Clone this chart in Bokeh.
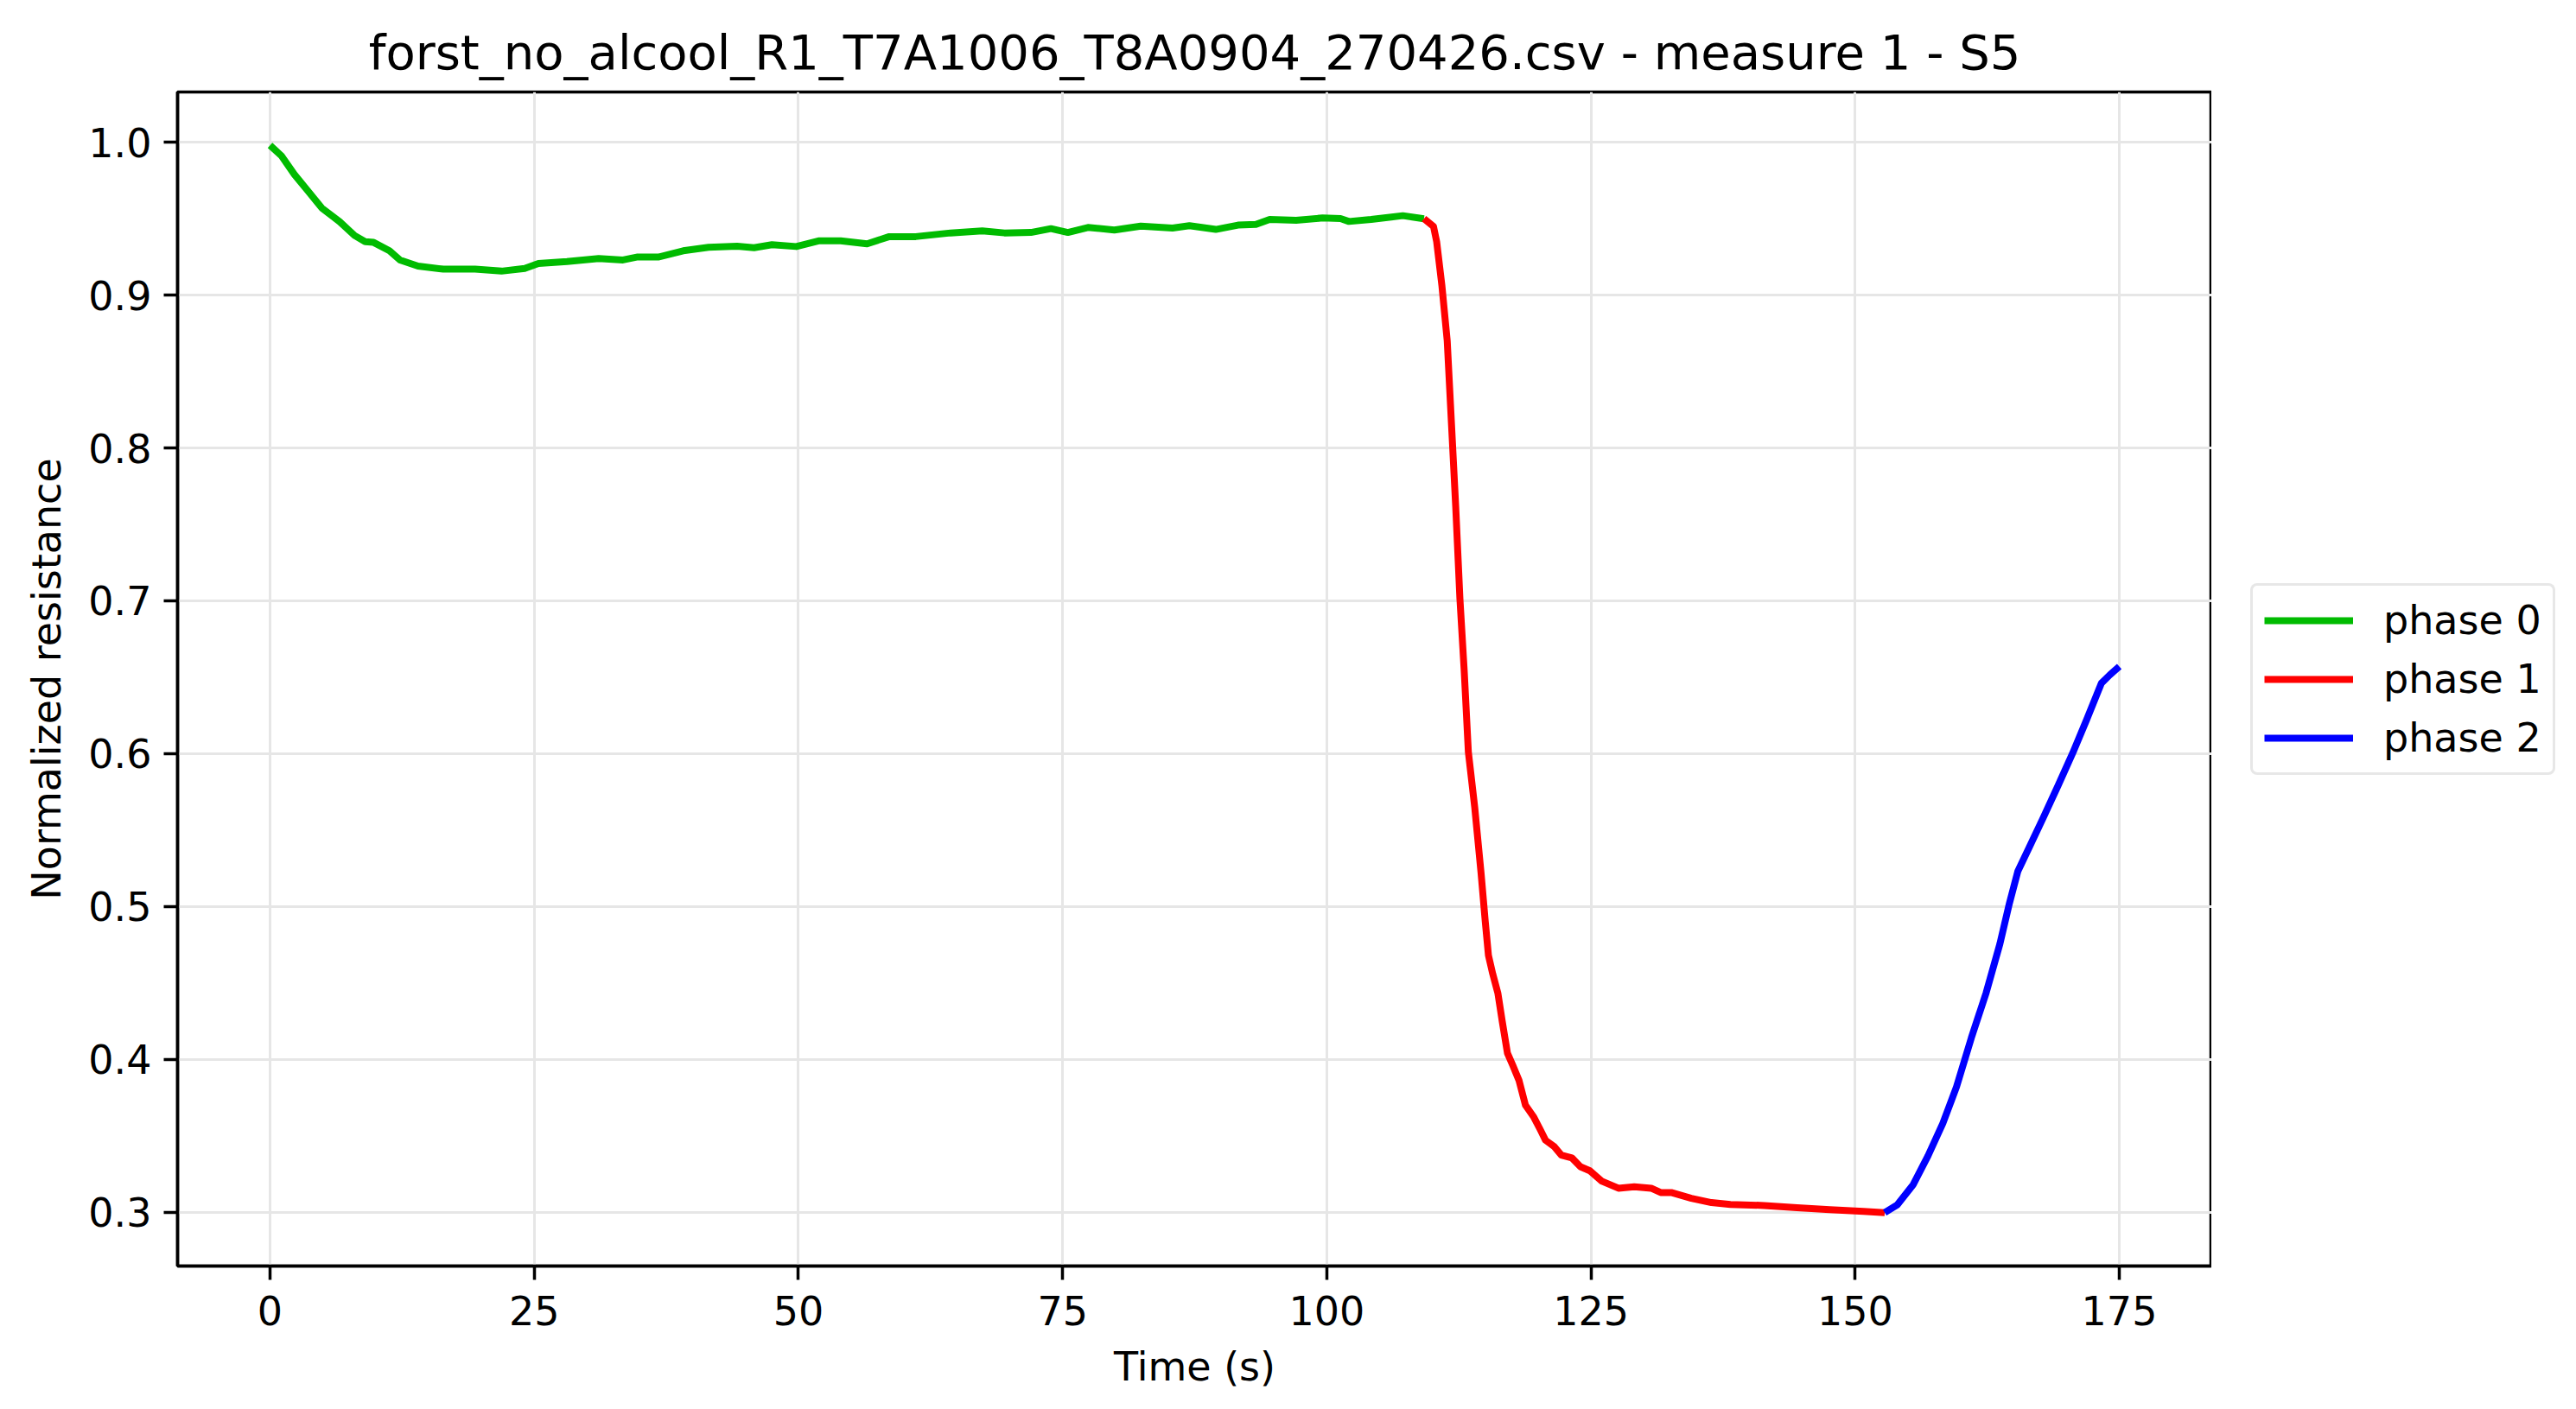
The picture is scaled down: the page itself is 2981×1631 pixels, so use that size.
from bokeh.plotting import figure
from bokeh.layouts import row
from bokeh.models import Range1d, FixedTicker, PrintfTickFormatter, Legend, LegendItem
from bokeh.embed import file_html
from bokeh.resources import INLINE

# ---- data ----
t0 = [0.0, 1.1, 2.3, 3.6, 4.9, 6.6, 8.0, 9.0, 9.8, 11.3, 12.3, 14.0, 16.4, 19.4, 21.9,
      24.1, 25.4, 28.1, 31.1, 33.4, 34.8, 36.8, 39.1, 41.5, 44.2, 45.8, 47.5, 49.8, 51.9,
      54.0, 56.5, 58.6, 61.1, 64.4, 67.4, 69.5, 72.0, 73.9, 75.5, 77.4, 79.9, 82.4, 85.4,
      87.0, 89.5, 91.6, 93.3, 94.6, 97.1, 99.6, 101.3, 102.1, 104.2, 107.2, 109.2]
v0 = [0.998, 0.991, 0.979, 0.968, 0.957, 0.948, 0.939, 0.935, 0.9345, 0.929, 0.923, 0.919,
      0.917, 0.917, 0.9157, 0.9175, 0.9207, 0.922, 0.924, 0.923, 0.925, 0.925, 0.929, 0.9313,
      0.932, 0.931, 0.933, 0.9318, 0.9355, 0.9355, 0.9336, 0.9383, 0.9383, 0.9407, 0.942,
      0.9407, 0.941, 0.9435, 0.941, 0.9443, 0.9426, 0.9452, 0.9439, 0.9454, 0.943, 0.9458,
      0.9463, 0.9495, 0.949, 0.9505, 0.9501, 0.9482, 0.9495, 0.952, 0.950]

t1 = [109.2, 110.1, 110.4, 110.9, 111.4, 111.8, 112.2, 112.6, 113.0, 113.4, 114.0, 114.6,
      115.0, 115.3, 115.7, 116.2, 116.6, 117.1, 117.6, 118.2, 118.8, 119.6, 120.2, 120.7,
      121.5, 122.2, 123.2, 124.0, 124.9, 126.0, 127.6, 129.1, 130.7, 131.6, 132.6, 134.5,
      136.4, 138.2, 141.4, 144.5, 147.6, 150.8, 152.8]
v1 = [0.950, 0.945, 0.935, 0.906, 0.870, 0.816, 0.762, 0.7015, 0.655, 0.601, 0.565, 0.522,
      0.490, 0.468, 0.456, 0.443, 0.425, 0.404, 0.396, 0.386, 0.370, 0.362, 0.354, 0.347,
      0.343, 0.3373, 0.3354, 0.3297, 0.327, 0.3203, 0.3156, 0.3166, 0.3156, 0.3128, 0.3128,
      0.309, 0.3062, 0.305, 0.3043, 0.3028, 0.3015, 0.3004, 0.2996]

t2 = [152.8, 154.0, 155.5, 156.9, 158.3, 159.6, 161.0, 162.4, 163.7, 164.6, 165.4, 166.5,
      167.8, 169.2, 170.6, 171.9, 173.3, 174.1, 175.0]
v2 = [0.2996, 0.3048, 0.318, 0.3368, 0.358, 0.382, 0.414, 0.4435, 0.4755, 0.502, 0.523,
      0.539, 0.558, 0.579, 0.6005, 0.622, 0.646, 0.6515, 0.657]

phase_labels = ["phase 0", "phase 1", "phase 2"]
phase_colors = ["#00bb00", "#ff0000", "#0000ff"]
x_ticks = [0, 25, 50, 75, 100, 125, 150, 175]
y_ticks = [0.3, 0.4, 0.5, 0.6, 0.7, 0.8, 0.9, 1.0]

title = "forst_no_alcool_R1_T7A1006_T8A0904_270426.csv - measure 1 - S5"

# autoscale with 5% margins like matplotlib
all_t = t0 + t1 + t2
all_v = v0 + v1 + v2
tx0, tx1 = min(all_t), max(all_t)
vy0, vy1 = min(all_v), max(all_v)
px = 0.05 * (tx1 - tx0)
py = 0.05 * (vy1 - vy0)

FONT = "DejaVu Sans"
H = 1625
LW = 8

p = figure(width=2559, height=H, output_backend="svg", toolbar_location=None,
           x_range=Range1d(tx0 - px, tx1 + px), y_range=Range1d(vy0 - py, vy1 + py),
           min_border_left=205, min_border_right=0, min_border_top=106, min_border_bottom=160)

p.title.text = title
p.title.text_font = FONT
p.title.text_font_size = "56px"
p.title.text_font_style = "normal"
p.title.text_color = "black"
p.title.align = "center"
p.title.standoff = 28

p.background_fill_color = "white"
p.border_fill_color = "white"
p.outline_line_color = "black"
p.outline_line_width = 3.5
p.outline_line_alpha = 1.0

for ax in (p.xaxis[0], p.yaxis[0]):
    ax.axis_line_color = "black"
    ax.axis_line_width = 3.5
    ax.major_tick_line_color = "black"
    ax.major_tick_line_width = 3.5
    ax.major_tick_out = 16
    ax.major_tick_in = 0
    ax.minor_tick_line_color = None
    ax.major_label_text_font = FONT
    ax.major_label_text_font_size = "46px"
    ax.major_label_text_color = "black"
    ax.axis_label_text_font = FONT
    ax.axis_label_text_font_size = "46px"
    ax.axis_label_text_font_style = "normal"
    ax.axis_label_text_color = "black"

p.xaxis[0].ticker = FixedTicker(ticks=x_ticks)
p.yaxis[0].ticker = FixedTicker(ticks=y_ticks)
p.yaxis[0].formatter = PrintfTickFormatter(format="%.1f")
p.xaxis[0].axis_label = "Time (s)"
p.yaxis[0].axis_label = "Normalized resistance"
p.xaxis[0].major_label_standoff = 18
p.yaxis[0].major_label_standoff = 14
p.xaxis[0].axis_label_standoff = 18
p.yaxis[0].axis_label_standoff = 18

p.grid.grid_line_color = "#e6e6e6"
p.grid.grid_line_width = 3
p.xgrid.ticker = FixedTicker(ticks=x_ticks)
p.ygrid.ticker = FixedTicker(ticks=y_ticks)

series = [(t0, v0), (t1, v1), (t2, v2)]
for (tt, vv), col in zip(series, phase_colors):
    p.line(tt, vv, line_color=col, line_width=LW, line_join="round", line_cap="butt")

# ---- legend panel to the right of the axes ----
# its ranges lie outside the data, so the copies of the series used as legend
# handles are not visible inside this small panel
pl = figure(width=2981 - 2559, height=H, output_backend="svg", toolbar_location=None,
            x_range=Range1d(1000, 1001), y_range=Range1d(1000, 1001),
            x_axis_type=None, y_axis_type=None,
            min_border_left=0, min_border_right=0, min_border_top=0, min_border_bottom=0)
pl.outline_line_color = None
pl.grid.visible = False
pl.background_fill_color = "white"
pl.border_fill_color = "white"

legend_renderers = [pl.line(tt, vv, line_color=col, line_width=LW)
                    for (tt, vv), col in zip(series, phase_colors)]
legend = Legend(items=[LegendItem(label=lab, renderers=[r]) for lab, r in zip(phase_labels, legend_renderers)],
                location=(45, 568))
legend.label_text_font = FONT
legend.label_text_font_size = "46px"
legend.label_text_color = "black"
legend.glyph_width = 103
legend.glyph_height = 46
legend.label_height = 46
legend.label_standoff = 35
legend.spacing = 14
legend.padding = 13
legend.margin = 0
legend.border_line_color = "#d0d0d0"
legend.border_line_width = 3
legend.background_fill_color = "white"
legend.background_fill_alpha = 0.85
if "border_radius" in Legend.properties():
    legend.border_radius = 8
pl.add_layout(legend)

layout = row(p, pl, spacing=0)
open("out.html", "w").write(file_html(layout, INLINE))
